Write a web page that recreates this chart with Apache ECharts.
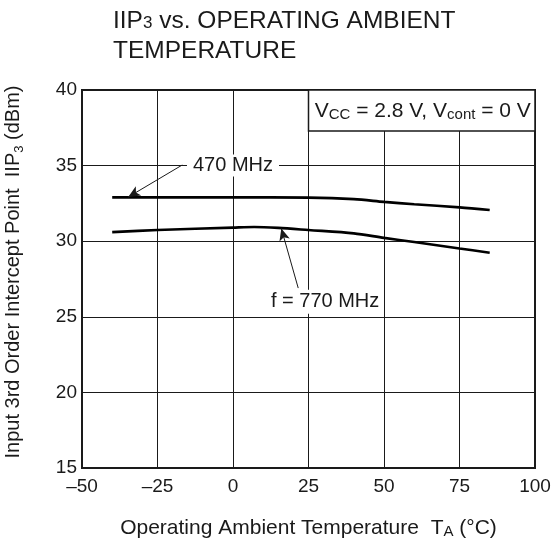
<!DOCTYPE html>
<html>
<head>
<meta charset="utf-8">
<script src="https://cdn.jsdelivr.net/npm/echarts@6/dist/echarts.min.js"></script>
<style>
  html, body { margin: 0; padding: 0; background: #fff; }
  #chart { width: 554px; height: 546px; }
</style>
</head>
<body>
<div id="chart"></div>
<script>
// Ambient temperature (°C) and input IP3 (dBm) for each frequency
const temps470 = [-40, -25, 0, 25, 40, 50, 60, 75, 85];
const iip470   = [32.9, 32.9, 32.9, 32.88, 32.78, 32.6, 32.44, 32.24, 32.06];

const temps770 = [-40, -25, 0, 7, 15, 25, 40, 50, 60, 75, 85];
const iip770   = [30.6, 30.74, 30.9, 30.94, 30.88, 30.74, 30.52, 30.22, 29.95, 29.52, 29.24];

// Axis ranges and tick step
const xTicks = { min: -50, max: 100, step: 25 };
const yTicks = { min: 15, max: 40, step: 5 };

// Callout labels and arrow end points, in data units
const label470 = { text: '470 MHz', at: [0, 35] };
const arrow470 = [[-16.8, 35.04], [-34.7, 32.92]];
const label770 = { text: 'f = 770 MHz', at: [30.5, 26] };
const arrow770 = [[21.6, 26.9], [16, 30.84]];

const FONT = 'Liberation Sans, Arial, Helvetica, sans-serif';
const INK = '#1a1a1a';

const zip = (xs, ys) => xs.map((x, i) => [x, ys[i]]);

function arrowLine(pts) {
  return {
    silent: true,
    symbol: ['none', 'arrow'],
    symbolSize: [8, 12],
    lineStyle: { color: INK, width: 1, type: 'solid' },
    label: { show: false },
    emphasis: { disabled: true },
    data: [[{ coord: pts[0] }, { coord: pts[1] }]]
  };
}

function callout(lbl, pad) {
  return {
    silent: true,
    symbol: 'circle',
    symbolSize: 1,
    itemStyle: { color: 'rgba(0,0,0,0)' },
    data: [{
      coord: lbl.at,
      label: {
        show: true,
        position: 'inside',
        formatter: lbl.text,
        color: INK,
        fontFamily: FONT,
        fontSize: 20,
        backgroundColor: '#fff',
        padding: pad
      }
    }]
  };
}

const chart = echarts.init(document.getElementById('chart'), null, { renderer: 'canvas' });

const grid = { left: 82, right: 19, top: 90, bottom: 78 };

chart.setOption({
  animation: false,
  backgroundColor: '#fff',
  title: {
    text: 'IIP{s|3} vs. OPERATING AMBIENT\nTEMPERATURE',
    left: 108,
    top: 1,
    textStyle: {
      fontFamily: FONT,
      fontSize: 24.5,
      fontWeight: 'normal',
      color: INK,
      lineHeight: 30,
      rich: {
        s: { fontFamily: FONT, fontSize: 17, color: INK, lineHeight: 17, verticalAlign: 'middle', padding: [4, 0, 0, 0] }
      }
    }
  },
  grid: Object.assign({
    show: true, borderColor: INK, borderWidth: 2, backgroundColor: 'transparent',
    outerBoundsMode: 'none', containLabel: false
  }, grid),
  xAxis: {
    type: 'value',
    min: xTicks.min,
    max: xTicks.max,
    interval: xTicks.step,
    name: 'Operating Ambient Temperature  T{s|A} (°C)',
    nameLocation: 'middle',
    nameGap: 50,
    nameTextStyle: {
      fontFamily: FONT, fontSize: 21, color: INK,
      rich: { s: { fontFamily: FONT, fontSize: 15, color: INK, verticalAlign: 'bottom' } }
    },
    axisLine: { show: true, onZero: false, lineStyle: { color: INK, width: 2 } },
    axisTick: { show: false },
    axisLabel: {
      fontFamily: FONT, fontSize: 19, color: INK, margin: 9,
      formatter: v => (v < 0 ? '\u2013' + Math.abs(v) : String(v))
    },
    splitLine: { show: true, lineStyle: { color: INK, width: 1 } }
  },
  yAxis: {
    type: 'value',
    min: yTicks.min,
    max: yTicks.max,
    interval: yTicks.step,
    name: 'Input 3rd Order Intercept Point  IIP{s|3} (dBm)',
    nameLocation: 'middle',
    nameGap: 59,
    nameTextStyle: {
      fontFamily: FONT, fontSize: 20, color: INK,
      padding: [0, 0, 0, 14],
      rich: { s: { fontFamily: FONT, fontSize: 13, color: INK, verticalAlign: 'bottom', padding: [0, 0, -3, 0] } }
    },
    axisLine: { show: true, onZero: false, lineStyle: { color: INK, width: 2 } },
    axisTick: { show: false },
    axisLabel: { fontFamily: FONT, fontSize: 19, color: INK, margin: 5 },
    splitLine: { show: true, lineStyle: { color: INK, width: 1 } }
  },
  series: [
    {
      name: '470 MHz',
      type: 'line',
      data: zip(temps470, iip470),
      smooth: 0.3,
      showSymbol: false,
      lineStyle: { color: '#000', width: 2.6 },
      z: 3,
      markLine: arrowLine(arrow470),
      markPoint: callout(label470, [1, 6])
    },
    {
      name: 'f = 770 MHz',
      type: 'line',
      data: zip(temps770, iip770),
      smooth: 0.3,
      showSymbol: false,
      lineStyle: { color: '#000', width: 2.6 },
      z: 3,
      markLine: arrowLine(arrow770),
      markPoint: callout(label770, [2, 3])
    }
  ]
});

// Condition box in the upper-right corner of the plot, starting at the 25 °C line
const topLeft = chart.convertToPixel({ gridIndex: 0 }, [25, yTicks.max]);
const topRight = chart.convertToPixel({ gridIndex: 0 }, [xTicks.max, yTicks.max]);
const boxH = 41;
chart.setOption({
  graphic: [
    {
      type: 'rect',
      z: 10,
      shape: { x: topLeft[0], y: topLeft[1], width: topRight[0] - topLeft[0], height: boxH },
      style: { fill: '#fff', stroke: INK, lineWidth: 1.5 }
    },
    {
      type: 'text',
      z: 11,
      x: (topLeft[0] + topRight[0]) / 2 + 1,
      y: topLeft[1] + boxH / 2 + 1,
      style: {
        text: 'V{s|CC} = 2.8 V, V{s|cont} = 0 V',
        fill: INK,
        font: '21px ' + FONT,
        align: 'center',
        verticalAlign: 'middle',
        rich: {
          s: { fontSize: 15, fontFamily: FONT, fill: INK, verticalAlign: 'bottom' }
        }
      }
    }
  ]
});
</script>
</body>
</html>
